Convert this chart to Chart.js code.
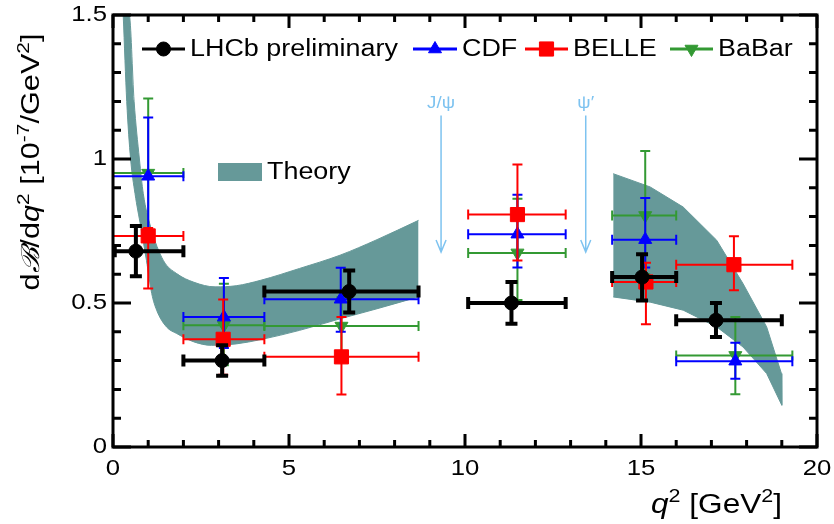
<!DOCTYPE html>
<html>
<head>
<meta charset="utf-8">
<script src="https://cdn.jsdelivr.net/npm/chart.js@4.4.0/dist/chart.umd.min.js"></script>
<style>
  html, body { margin: 0; padding: 0; background: #fff; }
  #wrap { width: 834px; height: 524px; }
</style>
</head>
<body>
<div id="wrap"><canvas id="chart" width="834" height="524"></canvas></div>
<script>
// --- data: q2 in GeV^2, dB/dq2 in 10^-7/GeV^2 ---
const lhcbX     = [0.65, 3.1, 6.71, 11.32, 15.03, 17.13];
const lhcbY     = [0.68, 0.30, 0.54, 0.50, 0.59, 0.44];
const lhcbYLo   = [0.593, 0.247, 0.467, 0.428, 0.509, 0.382];
const lhcbYHi   = [0.767, 0.353, 0.613, 0.573, 0.669, 0.50];
const lhcbBinLo = [0.05, 2, 4.3, 10.09, 14.18, 16];
const lhcbBinHi = [2, 4.3, 8.68, 12.86, 16, 19];

const binLo = [0, 2, 4.3, 10.09, 14.18, 16];
const binHi = [2, 4.3, 8.68, 12.86, 16, 19.3];

const cdfX   = [1.0, 3.15, 6.47, 11.49, 15.12, 17.68];
const cdfY   = [0.94, 0.451, 0.513, 0.739, 0.72, 0.298];
const cdfYLo = [0.749, 0.344, 0.40, 0.623, 0.623, 0.237];
const cdfYHi = [1.144, 0.587, 0.622, 0.876, 0.865, 0.362];

const belleX   = [1.0, 3.13, 6.49, 11.49, 15.14, 17.64];
const belleY   = [0.733, 0.374, 0.313, 0.807, 0.573, 0.633];
const belleYLo = [0.55, 0.251, 0.182, 0.648, 0.426, 0.544];
const belleYHi = [0.76, 0.512, 0.451, 0.981, 0.64, 0.732];

const babarX   = [1.0, 3.15, 6.49, 11.49, 15.12, 17.68];
const babarY   = [0.951, 0.423, 0.42, 0.674, 0.804, 0.318];
const babarYLo = [0.72, 0.284, 0.295, 0.51, 0.6, 0.183];
const babarYHi = [1.21, 0.567, 0.52, 0.862, 1.028, 0.451];

// theory band edges (low and high q2 regions); top edge clipped at 1.5
const theoryLowUpX = [0.29, 0.46, 0.60, 0.75, 0.86, 1.07, 1.43, 1.81, 2.3, 2.9, 3.5, 4.2, 5.3, 6.45, 7.5, 8.68];
const theoryLowUpY = [1.5, 1.5, 1.2, 1.0, 0.88, 0.764, 0.648, 0.602, 0.572, 0.556, 0.560, 0.579, 0.62, 0.666, 0.72, 0.787];
const theoryLowDnX = [0.29, 0.39, 0.50, 0.625, 0.79, 0.95, 1.1, 1.24, 1.52, 1.81, 2.3, 2.8, 3.5, 4.2, 5.3, 6.45, 7.5, 8.68];
const theoryLowDnY = [1.5, 1.2, 1.0, 0.88, 0.764, 0.648, 0.533, 0.475, 0.417, 0.394, 0.365, 0.353, 0.358, 0.373, 0.405, 0.445, 0.48, 0.521];
const theoryHighUpX = [14.21, 15.26, 16.2, 17.15, 17.9, 18.57, 18.99, 19.0];
const theoryHighUpY = [0.949, 0.903, 0.833, 0.718, 0.567, 0.417, 0.255, 0.145];
const theoryHighDnX = [14.21, 15.26, 16.2, 17.15, 17.9, 18.57, 19.0];
const theoryHighDnY = [0.521, 0.503, 0.475, 0.417, 0.347, 0.255, 0.145];

// charmonium vetoes
const vetoX = [9.32, 13.43];
const vetoLabels = ["J/\u03c8", "\u03c8\u2032"];
const vetoTop = 1.151, vetoBottom = 0.677;

const xTickVals = [0, 5, 10, 15, 20];
const xTickLabels = ["0", "5", "10", "15", "20"];
const yTickVals = [0, 0.5, 1, 1.5];
const yTickLabels = ["0", "0.5", "1", "1.5"];

const legendLabels = ["LHCb preliminary", "CDF", "BELLE", "BaBar"];

const FONT = '"Liberation Sans", Arial, Helvetica, sans-serif';
const STRETCH = 1.17; // the reference lettering is a bit wide
const COL = { lhcb: "#000000", cdf: "#0000ff", belle: "#ff0000", babar: "#339933", theory: "#669999", veto: "#7ec3f0" };

const pts = (xs, ys) => xs.map((x, i) => ({ x: x, y: ys[i] }));

function series(label, xs, ys, color, style, radius, rot, err) {
  return {
    label: label, data: pts(xs, ys), showLine: false,
    borderColor: color, backgroundColor: color,
    pointStyle: style, pointRadius: radius, pointRotation: rot, pointBorderWidth: 1,
    pointHoverRadius: radius, err: err
  };
}
function edge(label, xs, ys, fill, smooth) {
  return {
    label: label, data: pts(xs, ys), showLine: true, fill: fill,
    backgroundColor: COL.theory, borderColor: COL.theory,
    borderWidth: 1, pointRadius: 0, pointHoverRadius: 0,
    cubicInterpolationMode: smooth ? "monotone" : "default", tension: 0
  };
}

const datasets = [
  series("LHCb", lhcbX, lhcbY, COL.lhcb, "circle", 7, 0,
    { ylo: lhcbYLo, yhi: lhcbYHi, xlo: lhcbBinLo, xhi: lhcbBinHi, width: 4, cap: 6 }),
  series("BELLE", belleX, belleY, COL.belle, "rect", 10, 0,
    { ylo: belleYLo, yhi: belleYHi, xlo: binLo, xhi: binHi, width: 2, cap: 5 }),
  series("CDF", cdfX, cdfY, COL.cdf, "triangle", 7.5, 0,
    { ylo: cdfYLo, yhi: cdfYHi, xlo: binLo, xhi: binHi, width: 2, cap: 5 }),
  series("BaBar", babarX, babarY, COL.babar, "triangle", 7.5, 180,
    { ylo: babarYLo, yhi: babarYHi, xlo: binLo, xhi: binHi, width: 2, cap: 5 }),
  edge("Theory low up", theoryLowUpX, theoryLowUpY, "+1", true),
  edge("Theory low down", theoryLowDnX, theoryLowDnY, false, true),
  edge("Theory high up", theoryHighUpX, theoryHighUpY, "+1", false),
  edge("Theory high down", theoryHighDnX, theoryHighDnY, false, false)
];

// text with superscripts / italics, stretched sideways by sx
function runsWidth(ctx, runs, size) {
  let w = 0;
  runs.forEach(r => {
    ctx.font = (r.it ? "italic " : "") + (r.sup ? size * 0.68 : size) + "px " + FONT;
    w += ctx.measureText(r.t).width;
  });
  return w;
}
function drawRuns(ctx, runs, x, y, size, sx) {
  ctx.save();
  ctx.translate(x, y);
  ctx.scale(sx, 1);
  let cx = 0;
  runs.forEach(r => {
    ctx.font = (r.it ? "italic " : "") + (r.sup ? size * 0.68 : size) + "px " + FONT;
    ctx.fillText(r.t, cx, r.sup ? -size * 0.42 : 0);
    cx += ctx.measureText(r.t).width;
  });
  ctx.restore();
}
function text(ctx, s, x, y, size, align) {
  ctx.font = size + "px " + FONT;
  const w = ctx.measureText(s).width * STRETCH;
  const x0 = align === "center" ? x - w / 2 : align === "right" ? x - w : x;
  ctx.save();
  ctx.textAlign = "left";
  ctx.translate(x0, y);
  ctx.scale(STRETCH, 1);
  ctx.fillText(s, 0, 0);
  ctx.restore();
}

// error bars drawn right under each dataset's markers
const errorBars = {
  id: "errorBars",
  beforeDatasetDraw(chart, args) {
    const ds = chart.data.datasets[args.index];
    if (!ds.err) return;
    const xs = chart.scales.x, ys = chart.scales.y, e = ds.err, ctx = chart.ctx;
    ctx.save();
    ctx.strokeStyle = ds.borderColor;
    ctx.lineWidth = e.width;
    ds.data.forEach((p, i) => {
      const px = xs.getPixelForValue(p.x), py = ys.getPixelForValue(p.y);
      const x0 = xs.getPixelForValue(e.xlo[i]), x1 = xs.getPixelForValue(e.xhi[i]);
      const y0 = ys.getPixelForValue(e.ylo[i]), y1 = ys.getPixelForValue(e.yhi[i]);
      ctx.beginPath();
      ctx.moveTo(x0, py); ctx.lineTo(x1, py);
      ctx.moveTo(px, y0); ctx.lineTo(px, y1);
      ctx.moveTo(x0, py - e.cap); ctx.lineTo(x0, py + e.cap);
      ctx.moveTo(x1, py - e.cap); ctx.lineTo(x1, py + e.cap);
      ctx.moveTo(px - e.cap, y0); ctx.lineTo(px + e.cap, y0);
      ctx.moveTo(px - e.cap, y1); ctx.lineTo(px + e.cap, y1);
      ctx.stroke();
    });
    ctx.restore();
  }
};

// J/psi and psi' arrows
const vetoArrows = {
  id: "vetoArrows",
  beforeDatasetsDraw(chart) {
    const xs = chart.scales.x, ys = chart.scales.y, ctx = chart.ctx;
    ctx.save();
    ctx.strokeStyle = COL.veto; ctx.fillStyle = COL.veto; ctx.lineWidth = 1.5;
    ctx.textBaseline = "alphabetic";
    vetoX.forEach((v, i) => {
      const px = xs.getPixelForValue(v);
      const top = ys.getPixelForValue(vetoTop), bot = ys.getPixelForValue(vetoBottom);
      ctx.beginPath();
      ctx.moveTo(px, top); ctx.lineTo(px, bot);
      ctx.moveTo(px - 5, bot - 12); ctx.lineTo(px, bot); ctx.lineTo(px + 5, bot - 12);
      ctx.stroke();
      text(ctx, vetoLabels[i], px, top - 8, 16, "center");
    });
    ctx.restore();
  }
};

// frame, ticks, labels, titles, legend
const frame = {
  id: "frame",
  afterDraw(chart) {
    const xs = chart.scales.x, ys = chart.scales.y, ctx = chart.ctx;
    const a = chart.chartArea;
    ctx.save();
    ctx.strokeStyle = "#000"; ctx.fillStyle = "#000"; ctx.lineWidth = 3;
    ctx.strokeRect(a.left, a.top, a.right - a.left, a.bottom - a.top);
    ctx.beginPath();
    for (let v = 0; v <= 20; v++) {
      const px = xs.getPixelForValue(v), len = v % 5 === 0 ? 13 : 7;
      ctx.moveTo(px, a.bottom); ctx.lineTo(px, a.bottom - len);
      ctx.moveTo(px, a.top); ctx.lineTo(px, a.top + len);
    }
    for (let k = 0; k <= 15; k++) {
      const py = ys.getPixelForValue(k / 10), len = k % 5 === 0 ? 18 : 8;
      ctx.moveTo(a.left, py); ctx.lineTo(a.left + len, py);
      ctx.moveTo(a.right, py); ctx.lineTo(a.right - len, py);
    }
    ctx.stroke();

    ctx.textBaseline = "middle";
    xTickVals.forEach((v, i) => text(ctx, xTickLabels[i], xs.getPixelForValue(v), a.bottom + 22, 22, "center"));
    yTickVals.forEach((v, i) => text(ctx, yTickLabels[i], a.left - 6, ys.getPixelForValue(v), 22, "right"));

    // x title
    ctx.textBaseline = "alphabetic"; ctx.textAlign = "left";
    const xt = [{ t: "q", it: true }, { t: "2", sup: true }, { t: " [GeV" }, { t: "2", sup: true }, { t: "]" }];
    drawRuns(ctx, xt, 782 - runsWidth(ctx, xt, 27) * STRETCH, 513, 27, STRETCH);

    // y title, fitted to the reference length
    const yt = [{ t: "d" }, { t: "\u212c", it: true }, { t: "/d" }, { t: "q", it: true }, { t: "2", sup: true },
      { t: " [10" }, { t: "-7", sup: true }, { t: "/GeV" }, { t: "2", sup: true }, { t: "]" }];
    const ylen = 257, yw = runsWidth(ctx, yt, 25);
    ctx.save();
    ctx.translate(39, 162);
    ctx.rotate(-Math.PI / 2);
    drawRuns(ctx, yt, -ylen / 2, 0, 25, ylen / yw);
    ctx.restore();

    // legend row
    const items = [
      { x0: 142, x1: 185, tx: 190, c: COL.lhcb, s: "circle", r: 7, rot: 0 },
      { x0: 413, x1: 457, tx: 462, c: COL.cdf, s: "triangle", r: 7.5, rot: 0 },
      { x0: 525, x1: 568, tx: 573, c: COL.belle, s: "rect", r: 10, rot: 0 },
      { x0: 670, x1: 713, tx: 718, c: COL.babar, s: "triangle", r: 7.5, rot: 180 }
    ];
    const ly = 49;
    items.forEach((it, i) => {
      ctx.strokeStyle = it.c; ctx.fillStyle = it.c; ctx.lineWidth = 3;
      ctx.beginPath(); ctx.moveTo(it.x0, ly); ctx.lineTo(it.x1, ly); ctx.stroke();
      ctx.lineWidth = 1;
      Chart.helpers.drawPoint(ctx, { pointStyle: it.s, radius: it.r, rotation: it.rot, borderWidth: 1 }, (it.x0 + it.x1) / 2, ly);
      ctx.fillStyle = "#000";
      ctx.textBaseline = "middle";
      text(ctx, legendLabels[i], it.tx, ly + 1, 23, "left");
    });
    // theory legend
    ctx.fillStyle = COL.theory;
    ctx.fillRect(218, 163, 44, 18);
    ctx.fillStyle = "#000";
    text(ctx, "Theory", 267, 173, 23, "left");
    ctx.restore();
  }
};

new Chart(document.getElementById("chart"), {
  type: "scatter",
  data: { datasets: datasets },
  options: {
    responsive: false,
    animation: false,
    layout: { padding: { left: 113, right: 17, top: 15, bottom: 77 } },
    scales: {
      x: { type: "linear", min: 0, max: 20, display: false },
      y: { type: "linear", min: 0, max: 1.5, display: false }
    },
    plugins: { legend: { display: false }, tooltip: { enabled: false } }
  },
  plugins: [errorBars, vetoArrows, frame]
});
</script>
</body>
</html>
